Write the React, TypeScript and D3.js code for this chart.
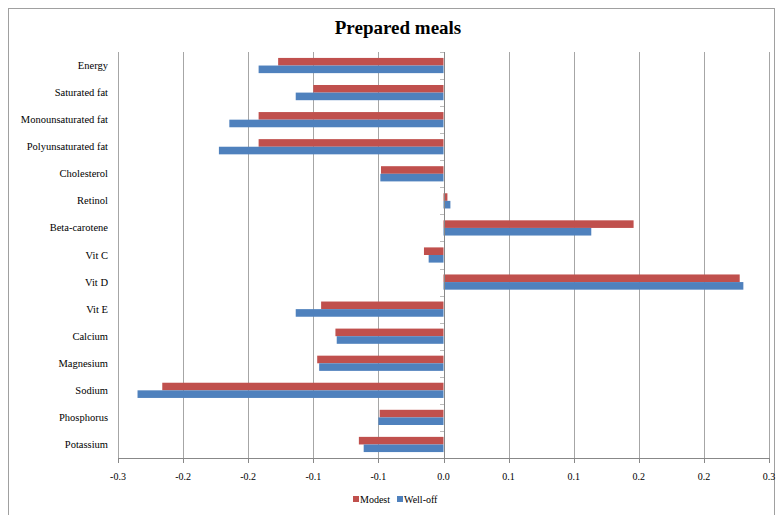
import React from "react";
import * as d3 from "d3";

const categories = [
  "Energy",
  "Saturated fat",
  "Monounsaturated fat",
  "Polyunsaturated fat",
  "Cholesterol",
  "Retinol",
  "Beta-carotene",
  "Vit C",
  "Vit D",
  "Vit E",
  "Calcium",
  "Magnesium",
  "Sodium",
  "Phosphorus",
  "Potassium",
];

const seriesNames = ["Modest", "Well-off"];
const seriesColors = ["#C0504D", "#4F81BD"];

const modest = [
  -0.127, -0.1, -0.142, -0.142, -0.048, 0.003, 0.146, -0.015, 0.2275, -0.094,
  -0.083, -0.097, -0.216, -0.049, -0.065,
];
const wellOff = [
  -0.142, -0.1135, -0.1645, -0.1725, -0.0485, 0.0053, 0.1135, -0.0114, 0.2303,
  -0.1135, -0.082, -0.0955, -0.235, -0.05, -0.0613,
];

const tickValues = [-0.25, -0.2, -0.15, -0.1, -0.05, 0, 0.05, 0.1, 0.15, 0.2, 0.25];
const tickLabels = ["-0.3", "-0.2", "-0.2", "-0.1", "-0.1", "0.0", "0.1", "0.1", "0.2", "0.2", "0.3"];

const title = "Prepared meals";

export default function App() {
  const W = 776;
  const H = 515;
  const left = 118;
  const right = 769;
  const top = 52;
  const bottom = 458;

  const x = d3.scaleLinear().domain([-0.25, 0.25]).range([left, right]);
  const y0 = d3.scaleBand<string>().domain(categories).range([top, bottom]).padding(0);
  const y1 = d3
    .scaleBand<string>()
    .domain(seriesNames)
    .range([0, y0.bandwidth()])
    .paddingInner(0)
    .paddingOuter(0.78);

  const data = [modest, wellOff];
  const font = "'Liberation Serif', 'Times New Roman', serif";
  const zero = x(0);

  return (
    <svg
      width={W}
      height={H}
      style={{ position: "absolute", left: 0, top: 0, background: "#fff" }}
      fontFamily={font}
    >
      <rect x={8.5} y={8.5} width={766} height={530} fill="#fff" stroke="#a0a0a0" strokeWidth={1} />
      <text x={398} y={34} textAnchor="middle" fontSize={19} fontWeight="bold" fill="#000">
        {title}
      </text>

      {/* gridlines */}
      {tickValues.map((t, i) => (
        <line
          key={"g" + i}
          x1={Math.round(x(t)) + 0.5}
          x2={Math.round(x(t)) + 0.5}
          y1={top}
          y2={bottom}
          stroke={t === 0 ? "#888" : "#a6a6a6"}
          strokeWidth={1}
        />
      ))}

      {/* bars */}
      {categories.map((c, ci) =>
        seriesNames.map((s, si) => {
          const v = data[si][ci];
          const x0 = x(Math.min(0, v));
          const w = Math.abs(x(v) - zero);
          return (
            <rect
              key={c + s}
              x={x0}
              y={(y0(c) as number) + (y1(s) as number)}
              width={w}
              height={y1.bandwidth()}
              fill={seriesColors[si]}
            />
          );
        })
      )}

      {/* zero axis with category ticks */}
      <line x1={Math.round(zero) + 0.5} x2={Math.round(zero) + 0.5} y1={top} y2={bottom} stroke="#888" />
      {categories.map((c, ci) => (
        <line
          key={"ct" + ci}
          x1={Math.round(zero) - 4}
          x2={Math.round(zero)}
          y1={Math.round(y0(c) as number) + 0.5}
          y2={Math.round(y0(c) as number) + 0.5}
          stroke="#bbb"
        />
      ))}

      {/* bottom axis */}
      <line x1={left} x2={right + 1} y1={bottom + 0.5} y2={bottom + 0.5} stroke="#888" />
      {tickValues.map((t, i) => (
        <g key={"t" + i}>
          <line
            x1={Math.round(x(t)) + 0.5}
            x2={Math.round(x(t)) + 0.5}
            y1={bottom}
            y2={bottom + 5}
            stroke="#888"
          />
          <text x={x(t)} y={480} textAnchor="middle" fontSize={10} fill="#000">
            {tickLabels[i]}
          </text>
        </g>
      ))}

      {/* category labels */}
      {categories.map((c) => (
        <text
          key={"l" + c}
          x={108}
          y={(y0(c) as number) + y0.bandwidth() / 2 + 3.5}
          textAnchor="end"
          fontSize={10.5}
          fill="#000"
        >
          {c}
        </text>
      ))}

      {/* legend */}
      <g>
        <rect x={353} y={496} width={6} height={6} fill={seriesColors[0]} />
        <text x={360} y={503} fontSize={10} fill="#000">
          {seriesNames[0]}
        </text>
        <rect x={397} y={496} width={6} height={6} fill={seriesColors[1]} />
        <text x={404} y={503} fontSize={10} fill="#000">
          {seriesNames[1]}
        </text>
      </g>
    </svg>
  );
}
